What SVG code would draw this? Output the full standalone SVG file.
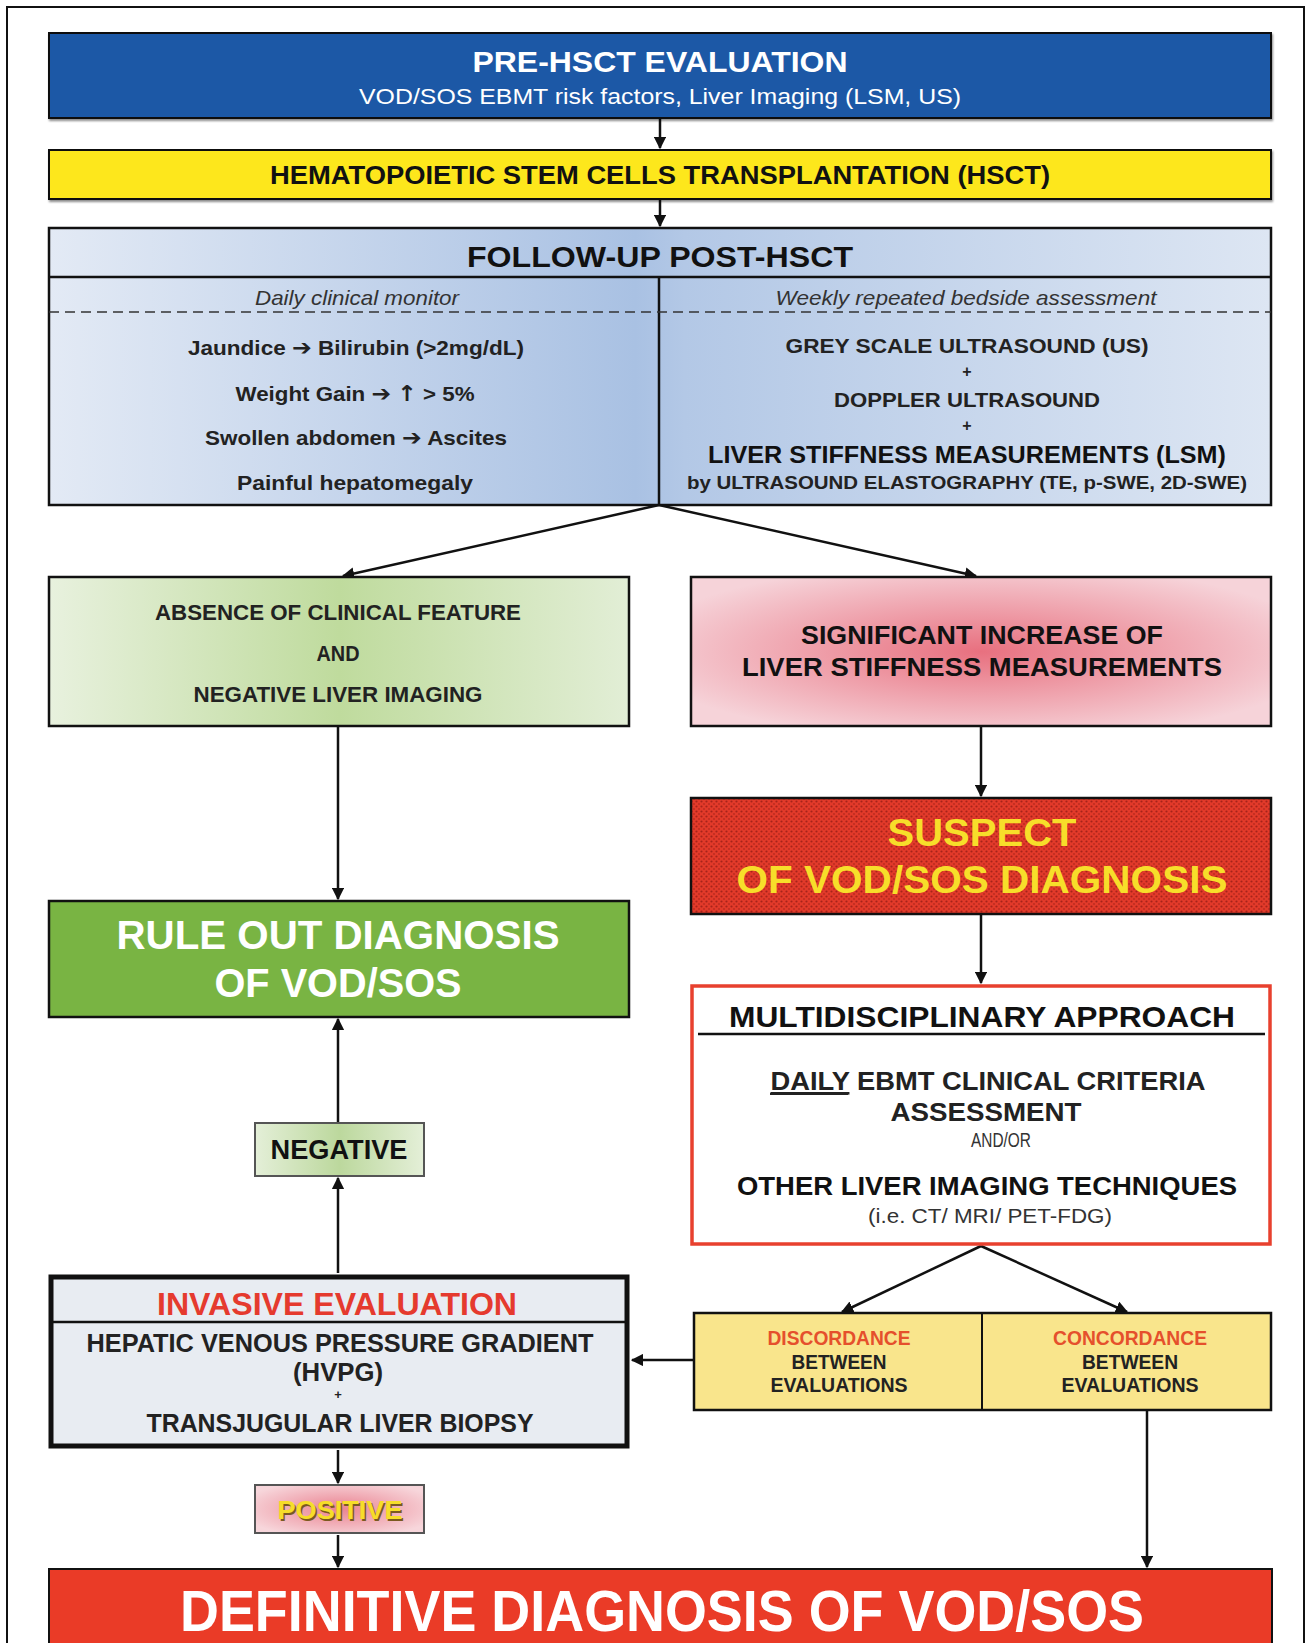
<svg xmlns="http://www.w3.org/2000/svg" width="1311" height="1643" viewBox="0 0 1311 1643">
<style>
text{font-family:"Liberation Sans",Arial,sans-serif;text-anchor:middle;fill:#111}
.b{font-weight:bold}
.i{font-style:italic}
.box{stroke:#111;stroke-width:2.5}
.con{stroke:#111;stroke-width:2.5;fill:none}
.ar{font-family:"DejaVu Sans",sans-serif;font-size:22px;font-weight:bold}
</style>
<defs>
<marker id="ah" viewBox="0 0 10 10" refX="9" refY="5" markerWidth="5" markerHeight="5" orient="auto-start-reverse" markerUnits="strokeWidth">
<path d="M0,0 L10,5 L0,10 z" fill="#111"/>
</marker>
<linearGradient id="gBlue" x1="0" y1="0" x2="1" y2="0">
<stop offset="0" stop-color="#e3eaf5"/>
<stop offset="0.48" stop-color="#a9c1e3"/>
<stop offset="0.52" stop-color="#b3c8e6"/>
<stop offset="1" stop-color="#dde6f3"/>
</linearGradient>
<linearGradient id="gGreen" x1="0" y1="0" x2="1" y2="0">
<stop offset="0" stop-color="#e8f1de"/>
<stop offset="0.5" stop-color="#bfdb9d"/>
<stop offset="1" stop-color="#e2eed6"/>
</linearGradient>
<radialGradient id="gPink" cx="0.5" cy="0.5" r="0.6">
<stop offset="0" stop-color="#e8707f"/>
<stop offset="1" stop-color="#f6d3d9"/>
</radialGradient>
<radialGradient id="gPos" cx="0.5" cy="0.5" r="0.6">
<stop offset="0" stop-color="#ea8290"/>
<stop offset="1" stop-color="#f7d6db"/>
</radialGradient>
<linearGradient id="gNeg" x1="0" y1="0" x2="1" y2="0">
<stop offset="0" stop-color="#e4efd8"/>
<stop offset="0.5" stop-color="#bcd89d"/>
<stop offset="1" stop-color="#e4efd8"/>
</linearGradient>
<pattern id="dots" width="5" height="5" patternUnits="userSpaceOnUse">
<rect width="5" height="5" fill="#e23a2a"/>
<circle cx="1.5" cy="1.5" r="1.1" fill="#8e1a12" opacity="0.7"/>
<circle cx="4" cy="4" r="0.9" fill="#8e1a12" opacity="0.5"/>
</pattern>
<filter id="sh" x="-5%" y="-10%" width="110%" height="130%">
<feDropShadow dx="1" dy="2" stdDeviation="1.2" flood-color="#000" flood-opacity="0.45"/>
</filter>
</defs>

<rect x="7" y="7" width="1297" height="1700" fill="none" stroke="#111" stroke-width="2"/>

<g id="connectors">
<line class="con" x1="660" y1="119" x2="660" y2="148" marker-end="url(#ah)"/>
<line class="con" x1="660" y1="200" x2="660" y2="226" marker-end="url(#ah)"/>
<line class="con" x1="659" y1="505" x2="343" y2="576" marker-end="url(#ah)"/>
<line class="con" x1="659" y1="505" x2="976" y2="576" marker-end="url(#ah)"/>
<line class="con" x1="338" y1="727" x2="338" y2="899" marker-end="url(#ah)"/>
<line class="con" x1="981" y1="727" x2="981" y2="796" marker-end="url(#ah)"/>
<line class="con" x1="981" y1="915" x2="981" y2="983" marker-end="url(#ah)"/>
<line class="con" x1="981" y1="1246" x2="842" y2="1312" marker-end="url(#ah)"/>
<line class="con" x1="981" y1="1246" x2="1127" y2="1312" marker-end="url(#ah)"/>
<line class="con" x1="694" y1="1360" x2="632" y2="1360" marker-end="url(#ah)"/>
<line class="con" x1="1147" y1="1411" x2="1147" y2="1567" marker-end="url(#ah)"/>
<line class="con" x1="338" y1="1273" x2="338" y2="1178" marker-end="url(#ah)"/>
<line class="con" x1="338" y1="1122" x2="338" y2="1019" marker-end="url(#ah)"/>
<line class="con" x1="338" y1="1450" x2="338" y2="1483" marker-end="url(#ah)"/>
<line class="con" x1="338" y1="1535" x2="338" y2="1567" marker-end="url(#ah)"/>
</g>

<g id="pre-hsct">
<rect x="49" y="33" width="1222" height="85" fill="#1b59a6" stroke="#111" stroke-width="2" filter="url(#sh)"/>
<text x="660" y="72" class="b" font-size="30" style="fill:#fff" textLength="375" lengthAdjust="spacingAndGlyphs">PRE-HSCT EVALUATION</text>
<text x="660" y="104" font-size="22" style="fill:#fff" textLength="602" lengthAdjust="spacingAndGlyphs">VOD/SOS EBMT risk factors, Liver Imaging (LSM, US)</text>
</g>

<g id="hsct">
<rect x="49" y="150" width="1222" height="49" fill="#fde71f" stroke="#111" stroke-width="2" filter="url(#sh)"/>
<text x="660" y="184" class="b" font-size="25" textLength="780" lengthAdjust="spacingAndGlyphs">HEMATOPOIETIC STEM CELLS TRANSPLANTATION (HSCT)</text>
</g>

<g id="follow-up">
<rect x="49" y="228" width="1222" height="277" fill="url(#gBlue)" stroke="#111" stroke-width="2.5"/>
<line x1="49" y1="277" x2="1271" y2="277" stroke="#111" stroke-width="2.5"/>
<line x1="659" y1="277" x2="659" y2="505" stroke="#111" stroke-width="2.5"/>
<line x1="49" y1="312" x2="1271" y2="312" stroke="#333" stroke-width="1.5" stroke-dasharray="10,6"/>
<text x="660" y="267" class="b" font-size="29" textLength="386" lengthAdjust="spacingAndGlyphs">FOLLOW-UP POST-HSCT</text>
<text x="357" y="305" class="i" font-size="21" style="fill:#333" textLength="204" lengthAdjust="spacingAndGlyphs">Daily clinical monitor</text>
<text x="966" y="305" class="i" font-size="21" style="fill:#333" textLength="381" lengthAdjust="spacingAndGlyphs">Weekly repeated  bedside assessment</text>
<text x="356" y="355" class="b" font-size="21" style="fill:#222" textLength="336" lengthAdjust="spacingAndGlyphs">Jaundice <tspan class="ar">➔</tspan> Bilirubin (&gt;2mg/dL)</text>
<text x="355" y="401" class="b" font-size="21" style="fill:#222" textLength="239" lengthAdjust="spacingAndGlyphs">Weight Gain <tspan class="ar">➔</tspan> <tspan class="ar">↑</tspan> &gt; 5%</text>
<text x="356" y="445" class="b" font-size="21" style="fill:#222" textLength="302" lengthAdjust="spacingAndGlyphs">Swollen abdomen <tspan class="ar">➔</tspan> Ascites</text>
<text x="355" y="490" class="b" font-size="21" style="fill:#222" textLength="236" lengthAdjust="spacingAndGlyphs">Painful hepatomegaly</text>
<text x="967" y="353" class="b" font-size="21" style="fill:#222" textLength="363" lengthAdjust="spacingAndGlyphs">GREY  SCALE  ULTRASOUND  (US)</text>
<text x="967" y="377" class="b" font-size="16" style="fill:#222">+</text>
<text x="967" y="407" class="b" font-size="21" style="fill:#222" textLength="266" lengthAdjust="spacingAndGlyphs">DOPPLER  ULTRASOUND</text>
<text x="967" y="431" class="b" font-size="16" style="fill:#222">+</text>
<text x="967" y="463" class="b" font-size="24" textLength="518" lengthAdjust="spacingAndGlyphs">LIVER STIFFNESS MEASUREMENTS (LSM)</text>
<text x="967" y="489" class="b" font-size="19" style="fill:#222" textLength="560" lengthAdjust="spacingAndGlyphs">by ULTRASOUND  ELASTOGRAPHY  (TE, p-SWE, 2D-SWE)</text>
</g>

<g id="absence">
<rect x="49" y="577" width="580" height="149" fill="url(#gGreen)" class="box"/>
<text x="338" y="620" class="b" font-size="22" style="fill:#222" textLength="366" lengthAdjust="spacingAndGlyphs">ABSENCE  OF CLINICAL  FEATURE</text>
<text x="338" y="661" class="b" font-size="22" style="fill:#222" textLength="43" lengthAdjust="spacingAndGlyphs">AND</text>
<text x="338" y="702" class="b" font-size="22" style="fill:#222" textLength="289" lengthAdjust="spacingAndGlyphs">NEGATIVE  LIVER IMAGING</text>
</g>

<g id="significant">
<rect x="691" y="577" width="580" height="149" fill="url(#gPink)" class="box"/>
<text x="982" y="644" class="b" font-size="25" textLength="362" lengthAdjust="spacingAndGlyphs">SIGNIFICANT INCREASE OF</text>
<text x="982" y="676" class="b" font-size="25" textLength="480" lengthAdjust="spacingAndGlyphs">LIVER STIFFNESS MEASUREMENTS</text>
</g>

<g id="suspect">
<rect x="691" y="798" width="580" height="116" fill="url(#dots)" class="box"/>
<text x="982" y="846" class="b" font-size="38" style="fill:#f7de2a" textLength="189" lengthAdjust="spacingAndGlyphs">SUSPECT</text>
<text x="982" y="893" class="b" font-size="38" style="fill:#f7de2a" textLength="491" lengthAdjust="spacingAndGlyphs">OF VOD/SOS DIAGNOSIS</text>
</g>

<g id="rule-out">
<rect x="49" y="901" width="580" height="116" fill="#79b443" class="box"/>
<text x="338" y="949" class="b" font-size="40" style="fill:#fff" textLength="443" lengthAdjust="spacingAndGlyphs">RULE OUT DIAGNOSIS</text>
<text x="338" y="997" class="b" font-size="40" style="fill:#fff" textLength="247" lengthAdjust="spacingAndGlyphs">OF VOD/SOS</text>
</g>

<g id="multidisciplinary">
<rect x="692" y="986" width="578" height="258" fill="#fff" stroke="#e8402e" stroke-width="3.5"/>
<line x1="698" y1="1034" x2="1265" y2="1034" stroke="#111" stroke-width="2.5"/>
<text x="982" y="1027" class="b" font-size="30" textLength="506" lengthAdjust="spacingAndGlyphs">MULTIDISCIPLINARY APPROACH</text>
<text x="988" y="1090" class="b" font-size="26" style="fill:#222" textLength="435" lengthAdjust="spacingAndGlyphs"><tspan text-decoration="underline">DAILY</tspan> EBMT CLINICAL CRITERIA</text>
<line x1="770" y1="1094" x2="848" y2="1094" stroke="#222" stroke-width="2"/>
<text x="986" y="1121" class="b" font-size="26" style="fill:#222" textLength="191" lengthAdjust="spacingAndGlyphs">ASSESSMENT</text>
<text x="1001" y="1147" font-size="20" style="fill:#333" textLength="60" lengthAdjust="spacingAndGlyphs">AND/OR</text>
<text x="987" y="1195" class="b" font-size="26" style="fill:#111" textLength="500" lengthAdjust="spacingAndGlyphs">OTHER LIVER IMAGING  TECHNIQUES</text>
<text x="990" y="1223" font-size="20" style="fill:#333" textLength="244" lengthAdjust="spacingAndGlyphs">(i.e. CT/  MRI/ PET-FDG)</text>
</g>

<g id="evaluations">
<rect x="694" y="1313" width="577" height="97" fill="#f9e58c" class="box" stroke-width="2"/>
<line x1="982" y1="1313" x2="982" y2="1410" stroke="#111" stroke-width="2"/>
<text x="839" y="1345" class="b" font-size="20" style="fill:#e5502c" textLength="143" lengthAdjust="spacingAndGlyphs">DISCORDANCE</text>
<text x="839" y="1369" class="b" font-size="20" style="fill:#222" textLength="95" lengthAdjust="spacingAndGlyphs">BETWEEN</text>
<text x="839" y="1392" class="b" font-size="20" style="fill:#222" textLength="137" lengthAdjust="spacingAndGlyphs">EVALUATIONS</text>
<text x="1130" y="1345" class="b" font-size="20" style="fill:#e5502c" textLength="154" lengthAdjust="spacingAndGlyphs">CONCORDANCE</text>
<text x="1130" y="1369" class="b" font-size="20" style="fill:#222" textLength="96" lengthAdjust="spacingAndGlyphs">BETWEEN</text>
<text x="1130" y="1392" class="b" font-size="20" style="fill:#222" textLength="137" lengthAdjust="spacingAndGlyphs">EVALUATIONS</text>
</g>

<g id="negative">
<rect x="255" y="1123" width="169" height="53" fill="url(#gNeg)" stroke="#555" stroke-width="2"/>
<text x="339" y="1159" class="b" font-size="27" textLength="137" lengthAdjust="spacingAndGlyphs">NEGATIVE</text>
</g>

<g id="invasive">
<rect x="51" y="1277" width="576" height="169" fill="#e8ecf2" stroke="#111" stroke-width="5"/>
<line x1="51" y1="1322" x2="627" y2="1322" stroke="#111" stroke-width="2.5"/>
<text x="337" y="1315" class="b" font-size="31" style="fill:#e53a2e" textLength="360" lengthAdjust="spacingAndGlyphs">INVASIVE EVALUATION</text>
<text x="340" y="1352" class="b" font-size="25" style="fill:#222" textLength="507" lengthAdjust="spacingAndGlyphs">HEPATIC VENOUS PRESSURE GRADIENT</text>
<text x="338" y="1381" class="b" font-size="25" style="fill:#222" textLength="90" lengthAdjust="spacingAndGlyphs">(HVPG)</text>
<text x="338" y="1399" class="b" font-size="13" style="fill:#222">+</text>
<text x="340" y="1432" class="b" font-size="25" style="fill:#222" textLength="387" lengthAdjust="spacingAndGlyphs">TRANSJUGULAR LIVER BIOPSY</text>
</g>

<g id="positive">
<rect x="255" y="1485" width="169" height="48" fill="url(#gPos)" stroke="#555" stroke-width="2"/>
<text x="340" y="1519" class="b" font-size="25" style="fill:#7a5a20" textLength="125" lengthAdjust="spacingAndGlyphs" transform="translate(1.5,1.5)">POSITIVE</text>
<text x="340" y="1519" class="b" font-size="25" style="fill:#f6dd2a" textLength="125" lengthAdjust="spacingAndGlyphs">POSITIVE</text>
</g>

<g id="definitive">
<rect x="49" y="1569" width="1223" height="90" fill="#ea3b27" stroke="#111" stroke-width="2"/>
<text x="662" y="1631" class="b" font-size="58" style="fill:#fff" textLength="964" lengthAdjust="spacingAndGlyphs">DEFINITIVE  DIAGNOSIS  OF VOD/SOS</text>
</g>
</svg>
